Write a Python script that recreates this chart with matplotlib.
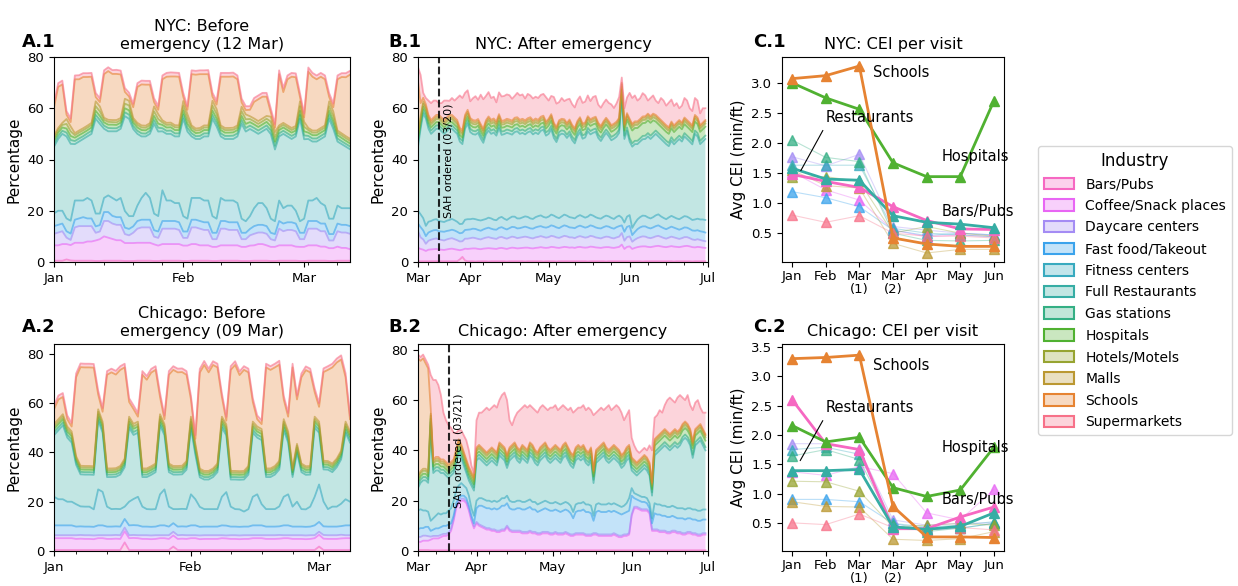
import numpy as np
import pandas as pd
import matplotlib
matplotlib.use('Agg')
import matplotlib.pyplot as plt
import matplotlib.dates as mdates
from matplotlib.patches import Patch
from matplotlib.colors import to_rgba
import seaborn as sns

industries = ['Bars/Pubs', 'Coffee/Snack places', 'Daycare centers', 'Fast food/Takeout',
              'Fitness centers', 'Full Restaurants', 'Gas stations', 'Hospitals',
              'Hotels/Motels', 'Malls', 'Schools', 'Supermarkets']
palette = sns.color_palette('husl', 12)[::-1]

# ---- A.1  NYC, daily share of visits (%), 1 Jan - 12 Mar ----
a1_bars = [0.5, 0.5, 0.5, 1.0, 0.6,
           0.5, 0.5, 0.5, 0.5, 0.5, 0.4, 0.4,
           0.5, 0.5, 0.5, 0.5, 0.5, 0.4, 0.4,
           0.4, 0.5, 0.5, 0.5, 0.5, 0.4, 0.4,
           0.5, 0.5, 0.5, 0.5, 0.5, 0.4, 0.4,
           0.5, 0.5, 0.5, 0.5, 0.5, 0.4, 0.4,
           0.5, 0.5, 0.5, 0.5, 0.5, 0.4, 0.4,
           0.4, 0.5, 0.5, 0.5, 0.5, 0.4, 0.4,
           0.5, 0.5, 0.5, 0.5, 0.5, 0.4, 0.4,
           0.5, 0.5, 0.5, 0.5, 0.5, 0.4, 0.4,
           0.5, 0.5, 0.5, 0.5]
a1_coffee = [6, 6, 6.5, 6, 6,
             7, 7, 7, 7.5, 7.5, 8, 8.5,
             9.5, 9, 8.5, 8, 8, 7, 7,
             7, 7, 7, 7, 7, 6.5, 6,
             6.5, 6.5, 6.5, 6.5, 6.5, 6, 6,
             6.5, 6.5, 6, 6, 6, 5.5, 5.5,
             6, 6, 6, 6, 6, 5.5, 5.5,
             6, 6, 6.5, 6.5, 6, 5.5, 5.5,
             6, 6, 6, 6, 5.5, 5.5, 5.5,
             6, 6, 6, 5.5, 5.5, 5, 5,
             5.5, 5, 5, 4.5]
a1_daycare = [4.5, 5, 5, 2.5, 2,
              6, 6.5, 6.5, 6, 6, 3, 3,
              6, 6.5, 6, 6, 6, 3.5, 3,
              4, 5.5, 6, 6, 6, 3, 3,
              6, 6, 6, 6, 5.5, 3, 3,
              6.5, 6.5, 6.5, 6, 6, 3, 3,
              6.5, 6.5, 6, 6, 6, 3, 3,
              4, 4.5, 4.5, 4.5, 4.5, 3, 2.5,
              6.5, 5.5, 6, 6, 6, 3, 3,
              6.5, 6.5, 6.5, 6, 6, 3, 3,
              6, 6, 6, 6]
a1_fastfood = [3, 3, 3, 2.5, 2.5,
               3, 3, 3.5, 3, 3, 2.5, 2.5,
               3.5, 3.5, 3, 3, 3, 2.5, 2.5,
               2.5, 3, 3, 3, 3, 2.5, 2.5,
               3, 3, 3, 3, 3, 2.5, 2.5,
               3, 3, 3, 3, 3, 2.5, 2.5,
               3, 3, 3, 3, 3, 2.5, 2.5,
               2.5, 3, 3, 3, 3, 2.5, 2.5,
               3, 3, 3, 3, 3, 2.5, 2.5,
               3, 3, 3, 3, 3, 2.5, 2.5,
               3, 3, 3, 3]
a1_fitness = [5, 5.5, 5, 5, 5,
              7.5, 7, 6.5, 8, 7, 5, 4.5,
              5.5, 6.5, 7, 6.5, 7.5, 6.5, 5,
              4, 6, 8.5, 10.5, 8.5, 6.5, 6,
              12, 8, 8, 7, 7.5, 6, 5,
              8.5, 8.5, 9, 8.5, 8.5, 6.5, 5.5,
              9, 8, 8.5, 8.5, 7.5, 5.5, 4.5,
              5, 7, 8.5, 8.5, 7, 5.5, 5,
              8, 6, 6.5, 6.5, 5, 4.5, 5.5,
              8, 8, 9, 8, 7, 6, 6,
              7, 6.5, 6.5, 7]
a1_fullrest = [26, 28, 30, 32, 30,
               22, 23, 24, 24, 26, 37, 35,
               27, 25, 26, 27, 27, 37, 38,
               34, 28, 24, 22, 25, 35, 33,
               23, 26, 26, 26, 26, 38, 34,
               24, 23, 23, 25, 25, 38, 36,
               24, 24, 24, 24, 26, 37, 35,
               34, 30, 27, 28, 31, 33, 28,
               25, 29, 27, 26, 29, 40, 31,
               24, 23, 22, 25, 27, 39, 35,
               25, 25, 24, 23]
a1_gas = [1.2, 1.2, 1.2, 1.5, 1.5,
          1.2, 1.2, 1.1, 1.2, 1.2, 1.5, 1.5,
          1.2, 1.3, 1.2, 1.2, 1.1, 1.5, 1.6,
          1.2, 1.2, 1.2, 1.1, 1.2, 1.5, 1.5,
          1.2, 1.2, 1.3, 1.2, 1.2, 1.6, 1.5,
          1.2, 1.1, 1.2, 1.2, 1.2, 1.5, 1.5,
          1.2, 1.2, 1.2, 1.3, 1.2, 1.5, 1.4,
          1.3, 1.3, 1.3, 1.3, 1.3, 1.5, 1.5,
          1.2, 1.2, 1.2, 1.2, 1.1, 1.5, 1.5,
          1.2, 1.2, 1.2, 1.2, 1.2, 1.5, 1.5,
          1.2, 1.1, 1.1, 1.1]
a1_hospitals = [1.3, 1.3, 1.3, 1.6, 1.6,
                1.3, 1.3, 1.3, 1.2, 1.3, 1.6, 1.6,
                1.3, 1.3, 1.4, 1.3, 1.3, 1.6, 1.7,
                1.3, 1.3, 1.3, 1.3, 1.2, 1.6, 1.6,
                1.3, 1.3, 1.3, 1.3, 1.3, 1.6, 1.6,
                1.3, 1.2, 1.3, 1.3, 1.3, 1.7, 1.6,
                1.3, 1.3, 1.3, 1.3, 1.3, 1.6, 1.6,
                1.4, 1.4, 1.4, 1.4, 1.4, 1.6, 1.6,
                1.3, 1.3, 1.3, 1.3, 1.2, 1.6, 1.6,
                1.3, 1.3, 1.3, 1.3, 1.3, 1.6, 1.6,
                1.3, 1.3, 1.2, 1.2]
a1_hotels = [1.0, 1.0, 1.0, 1.8, 1.8,
             1.0, 1.0, 1.0, 1.0, 1.0, 1.8, 1.8,
             1.0, 1.1, 1.0, 1.0, 1.0, 1.8, 1.9,
             1.0, 1.0, 1.0, 1.0, 1.0, 1.8, 1.8,
             1.0, 1.0, 1.0, 1.1, 1.0, 1.8, 1.8,
             1.0, 1.0, 1.0, 1.0, 1.0, 1.9, 1.8,
             1.0, 1.0, 1.0, 1.0, 1.0, 1.8, 1.8,
             1.2, 1.2, 1.2, 1.2, 1.2, 1.8, 1.8,
             1.0, 1.0, 1.0, 1.0, 1.0, 1.8, 1.8,
             1.0, 1.0, 1.0, 1.0, 1.0, 1.8, 1.8,
             1.0, 1.0, 1.0, 1.0]
a1_malls = [0.8, 0.8, 0.8, 1.9, 1.9,
            0.8, 0.8, 0.8, 0.8, 0.8, 1.9, 1.9,
            0.8, 0.8, 0.8, 0.9, 0.8, 1.9, 1.8,
            0.8, 0.8, 0.8, 0.8, 0.8, 1.9, 1.9,
            0.8, 0.8, 0.8, 0.8, 0.8, 1.9, 1.9,
            0.8, 0.8, 0.8, 0.8, 0.8, 1.9, 1.9,
            0.8, 0.8, 0.8, 0.8, 0.8, 1.8, 1.9,
            1.1, 1.1, 1.1, 1.1, 1.1, 1.9, 1.9,
            0.8, 0.8, 0.8, 0.8, 0.8, 1.9, 1.9,
            0.8, 0.8, 0.8, 0.8, 0.8, 1.9, 1.9,
            0.8, 0.8, 0.8, 0.8]
a1_schools = [11, 16, 15, 1.7, 1.7,
              21, 20, 20, 19, 18, 1.7, 1.7,
              17, 19, 18, 18, 17, 2.7, 1.7,
              4.2, 14, 16, 16, 15, 1.7, 1.7,
              16, 18, 18, 19, 19, 1.7, 1.7,
              20, 21, 21, 20, 20, 1.7, 1.7,
              19, 20, 20, 20, 18, 1.7, 1.7,
              2.5, 6.5, 8.5, 8.5, 7.5, 1.7, 1.7,
              20, 12, 18, 20, 19, 1.7, 1.7,
              22, 21, 20, 20, 18, 1.7, 1.7,
              20, 22, 23, 25]
a1_supermarkets = [1.5, 1.5, 1.5, 1.4, 1.5,
                   1.5, 1.6, 1.5, 1.5, 1.5, 1.6, 1.5,
                   1.5, 1.5, 1.5, 1.6, 1.5, 1.5, 1.5,
                   1.4, 1.5, 1.5, 1.5, 1.5, 1.5, 1.5,
                   1.5, 1.5, 1.6, 1.5, 1.5, 1.5, 1.4,
                   1.5, 1.5, 1.5, 1.5, 1.6, 1.5, 1.5,
                   1.5, 1.5, 1.5, 1.5, 1.5, 1.5, 1.5,
                   1.4, 1.5, 1.5, 1.5, 1.5, 1.5, 1.4,
                   1.5, 1.6, 1.5, 1.5, 1.5, 1.5, 1.5,
                   1.6, 1.5, 1.5, 1.5, 1.5, 1.5, 1.5,
                   1.5, 1.5, 1.6, 1.5]

# ---- A.2  Chicago, 1 Jan - 8 Mar ----
a2_bars = [0.4, 0.4, 0.4, 0.4, 0.4,
           0.4, 0.4, 0.4, 0.4, 0.4, 0.4, 0.4,
           0.4, 0.4, 0.4, 0.4, 3.5, 0.4, 0.4,
           0.4, 0.4, 0.4, 0.4, 0.4, 0.4, 0.4,
           0.4, 1.8, 0.4, 0.4, 0.4, 0.4, 0.4,
           0.4, 0.4, 0.4, 0.4, 0.4, 0.4, 0.4,
           0.4, 0.4, 0.4, 0.4, 0.4, 0.4, 0.4,
           0.4, 0.4, 0.4, 0.4, 0.4, 0.4, 0.4,
           0.4, 0.4, 0.4, 0.4, 0.4, 0.4, 1.8,
           0.4, 0.4, 0.4, 0.4, 0.4, 0.4, 0.4]
a2_coffee = [4.8, 4.8, 4.8, 4.8, 4.8,
             4.5, 4.6, 4.5, 4.5, 4.4, 4.8, 4.8,
             4.5, 4.5, 4.6, 4.5, 4.5, 4.8, 4.9,
             4.8, 4.5, 4.5, 4.4, 4.5, 4.8, 4.8,
             4.5, 4.5, 4.5, 4.6, 4.5, 4.8, 4.8,
             4.4, 4.5, 4.5, 4.5, 4.5, 4.8, 4.7,
             4.5, 4.5, 4.4, 4.5, 4.5, 4.8, 4.8,
             4.8, 4.5, 4.5, 4.5, 4.6, 4.8, 4.8,
             4.5, 4.5, 4.5, 4.4, 4.5, 4.8, 4.8,
             4.6, 4.5, 4.5, 4.5, 4.7, 4.8, 4.8]
a2_daycare = [1.2, 1.2, 1.2, 1.2, 1.2,
              1.5, 1.5, 1.5, 1.5, 1.5, 1.2, 1.2,
              1.5, 1.5, 1.5, 1.5, 1.5, 1.2, 1.2,
              1.2, 1.5, 1.5, 1.5, 1.5, 1.2, 1.2,
              1.5, 1.5, 1.5, 1.5, 1.5, 1.2, 1.2,
              1.5, 1.5, 1.5, 1.5, 1.5, 1.2, 1.2,
              1.5, 1.5, 1.5, 1.5, 1.5, 1.2, 1.2,
              1.2, 1.5, 1.5, 1.5, 1.5, 1.2, 1.2,
              1.5, 1.5, 1.5, 1.5, 1.5, 1.2, 1.2,
              1.5, 1.5, 1.5, 1.5, 1.5, 1.2, 1.2]
a2_fastfood = [4.0, 4.0, 4.0, 4.0, 4.0,
               3.5, 3.5, 3.5, 3.5, 3.5, 4.0, 4.0,
               3.5, 3.5, 3.5, 3.5, 3.5, 4.0, 4.0,
               4.0, 3.5, 3.5, 3.5, 3.5, 4.0, 4.0,
               3.5, 3.5, 3.5, 3.5, 3.5, 4.0, 4.0,
               3.5, 3.5, 3.5, 3.5, 3.5, 4.0, 4.0,
               3.5, 3.5, 3.5, 3.5, 3.5, 4.0, 4.0,
               4.0, 3.5, 3.5, 3.5, 3.5, 4.0, 4.0,
               3.5, 3.5, 3.5, 3.5, 3.5, 4.0, 4.0,
               3.5, 3.5, 3.5, 3.5, 3.5, 4.0, 4.0]
a2_fitness = [11.6, 10.6, 10.6, 9.6, 9.6,
              9.1, 8.1, 8.1, 8.1, 7.1, 14.6, 13.6,
              8.1, 7.1, 7.1, 7.1, 5.0, 9.6, 10.6,
              11.6, 8.1, 7.1, 7.1, 7.1, 12.6, 14.6,
              8.1, 5.7, 7.1, 7.1, 7.1, 12.6, 10.6,
              8.1, 7.1, 7.1, 7.1, 7.1, 11.6, 13.6,
              8.1, 7.1, 7.1, 6.1, 7.1, 11.6, 12.6,
              8.6, 7.1, 7.1, 7.1, 8.1, 11.6, 12.6,
              8.1, 10.1, 7.1, 7.1, 8.1, 11.6, 15.2,
              10.1, 7.1, 8.1, 8.1, 9.1, 10.6, 9.6]
a2_fullrest = [25, 28, 30, 26, 24,
               16, 13, 13, 13, 14, 28, 24,
               12, 13, 13, 14, 16, 30, 26,
               26, 12, 13, 14, 15, 28, 22,
               14, 14, 14, 14, 16, 27, 18,
               12, 12, 12, 13, 15, 28, 23,
               11, 12, 12, 13, 14, 26, 23,
               26, 13, 13, 14, 15, 27, 21,
               12, 20, 15, 14, 13, 28, 21,
               13, 16, 14, 16, 18, 27, 24]
a2_gas = [1.2, 1.2, 1.2, 1.2, 1.2,
          1.0, 1.0, 1.0, 1.0, 1.0, 1.2, 1.2,
          1.0, 1.0, 1.0, 1.0, 1.0, 1.2, 1.2,
          1.2, 1.0, 1.0, 1.0, 1.0, 1.2, 1.2,
          1.0, 1.0, 1.0, 1.0, 1.0, 1.2, 1.2,
          1.0, 1.0, 1.0, 1.0, 1.0, 1.2, 1.2,
          1.0, 1.0, 1.0, 1.0, 1.0, 1.2, 1.2,
          1.2, 1.0, 1.0, 1.0, 1.0, 1.2, 1.2,
          1.0, 1.0, 1.0, 1.0, 1.0, 1.2, 1.2,
          1.0, 1.0, 1.0, 1.0, 1.0, 1.2, 1.2]
a2_hospitals = [1.3, 1.3, 1.3, 1.3, 1.3,
                1.0, 1.0, 1.0, 1.0, 1.0, 1.3, 1.3,
                1.0, 1.0, 1.0, 1.0, 1.0, 1.3, 1.3,
                1.3, 1.0, 1.0, 1.0, 1.0, 1.3, 1.3,
                1.0, 1.0, 1.0, 1.0, 1.0, 1.3, 1.3,
                1.0, 1.0, 1.0, 1.0, 1.0, 1.3, 1.3,
                1.0, 1.0, 1.0, 1.0, 1.0, 1.3, 1.3,
                1.3, 1.0, 1.0, 1.0, 1.0, 1.3, 1.3,
                1.0, 1.0, 1.0, 1.0, 1.0, 1.3, 1.3,
                1.0, 1.0, 1.0, 1.0, 1.0, 1.3, 1.3]
a2_hotels = [1.0, 1.0, 1.0, 1.0, 1.0,
             0.8, 0.8, 0.8, 0.8, 0.8, 1.0, 1.0,
             0.8, 0.8, 0.8, 0.8, 0.8, 1.0, 1.0,
             1.0, 0.8, 0.8, 0.8, 0.8, 1.0, 1.0,
             0.8, 0.8, 0.8, 0.8, 0.8, 1.0, 1.0,
             0.8, 0.8, 0.8, 0.8, 0.8, 1.0, 1.0,
             0.8, 0.8, 0.8, 0.8, 0.8, 1.0, 1.0,
             1.0, 0.8, 0.8, 0.8, 0.8, 1.0, 1.0,
             0.8, 0.8, 0.8, 0.8, 0.8, 1.0, 1.0,
             0.8, 0.8, 0.8, 0.8, 0.8, 1.0, 1.0]
a2_malls = [1.0, 1.0, 1.0, 1.0, 1.0,
            0.7, 0.7, 0.7, 0.7, 0.7, 1.0, 1.0,
            0.7, 0.7, 0.7, 0.7, 0.7, 1.0, 1.0,
            1.0, 0.7, 0.7, 0.7, 0.7, 1.0, 1.0,
            0.7, 0.7, 0.7, 0.7, 0.7, 1.0, 1.0,
            0.7, 0.7, 0.7, 0.7, 0.7, 1.0, 1.0,
            0.7, 0.7, 0.7, 0.7, 0.7, 1.0, 1.0,
            1.0, 0.7, 0.7, 0.7, 0.7, 1.0, 1.0,
            0.7, 0.7, 0.7, 0.7, 0.7, 1.0, 1.0,
            0.7, 0.7, 0.7, 0.7, 0.7, 1.0, 1.0]
a2_schools = [6, 8, 7, 3, 2,
              32, 40, 40, 40, 40, 6, 4,
              38, 39, 38, 39, 37, 6, 6,
              2, 38, 36, 38, 38, 7, 2,
              36, 39, 38, 38, 35, 7, 2,
              39, 43, 40, 42, 39, 8, 1.5,
              41, 43, 39, 41, 38, 8, 3,
              2, 41, 40, 40, 39, 8, 6,
              41, 18, 35, 39, 38, 10, 6,
              36, 37, 39, 39, 37, 18, 5]
a2_supermarkets = [1.5, 1.6, 1.6, 1.5, 1.5,
                   1.5, 1.5, 1.5, 1.5, 1.5, 1.6, 1.5,
                   1.5, 1.5, 1.5, 1.5, 1.5, 1.5, 1.5,
                   1.5, 1.5, 1.5, 1.5, 1.5, 1.6, 1.5,
                   1.5, 1.5, 1.5, 1.5, 1.5, 1.5, 1.5,
                   1.5, 1.6, 1.5, 1.5, 1.5, 1.5, 1.5,
                   1.5, 1.5, 1.5, 1.5, 1.5, 1.5, 1.5,
                   1.5, 1.5, 1.5, 1.5, 1.6, 1.5, 1.5,
                   1.5, 1.5, 1.5, 1.5, 1.5, 1.5, 1.5,
                   1.5, 1.5, 1.5, 1.6, 1.7, 1.6, 1.5]

# ---- B.1  NYC, 12 Mar - 30 Jun ----
b1_bars = [0.3, 0.3, 0.3, 0.3, 0.3, 0.3, 0.3, 0.3, 0.3, 0.3,
           0.3, 0.3, 0.3, 0.3, 0.3, 0.3, 1.0, 2.0, 0.6, 0.3,
           0.3, 0.3, 0.2, 0.3, 0.3, 0.3, 0.3, 0.2, 0.3, 0.3,
           0.3, 0.3, 0.3, 0.3, 0.2, 0.3, 0.3, 0.3, 0.3, 0.3,
           0.3, 0.2, 0.3, 0.3, 0.3, 0.3, 0.3, 0.3, 0.2, 0.3,
           0.3, 0.3, 0.3, 0.2, 0.3, 0.3, 0.3, 0.3, 0.3, 0.3,
           0.3, 0.3, 0.3, 0.3, 0.3, 0.2, 0.3, 0.3, 0.3, 0.3,
           0.3, 0.3, 0.2, 0.3, 0.3, 0.3, 0.3, 0.3, 0.3, 0.3,
           0.3, 0.3, 0.3, 0.3, 0.3, 0.3, 0.2, 0.3, 0.3, 0.3,
           0.3, 0.3, 0.3, 0.3, 0.3, 0.3, 0.3, 0.3, 0.2, 0.3,
           0.3, 0.3, 0.3, 0.3, 0.3, 0.2, 0.3, 0.3, 0.3, 0.3, 0.3]
b1_coffee = [5.2, 4.8, 4.5, 4.0, 4.5, 4.6, 4.7, 4.8, 4.6, 4.5,
             4.4, 4.6, 4.8, 4.9, 4.7, 4.5, 3.6, 2.8, 4.6, 4.8,
             4.9, 5.0, 5.1, 4.8, 4.7, 4.9, 5.0, 5.2, 5.0, 4.9,
             4.8, 5.1, 5.2, 5.0, 4.9, 5.1, 5.3, 5.2, 5.0, 5.1,
             5.2, 5.4, 5.3, 5.1, 5.0, 5.2, 5.3, 5.5, 5.4, 5.2,
             5.3, 5.6, 5.5, 5.4, 5.2, 5.4, 5.6, 5.5, 5.3, 5.4,
             5.2, 5.5, 5.6, 5.4, 5.3, 5.5, 5.7, 5.6, 5.4, 5.3,
             5.2, 5.4, 5.6, 5.5, 5.3, 5.2, 5.4, 5.6, 6.5, 4.8,
             5.6, 5.8, 4.8, 5.2, 5.5, 5.7, 5.9, 5.8, 5.6, 5.5,
             5.7, 5.9, 6.0, 5.8, 5.6, 5.5, 5.7, 5.9, 5.8, 5.6,
             5.5, 5.7, 5.9, 6.0, 5.8, 5.6, 5.4, 5.6, 5.5, 5.3, 5.2]
b1_daycare = [6.5, 4.5, 4.0, 2.8, 3.5, 3.8, 4.0, 4.1, 3.9, 3.8,
              3.7, 3.9, 4.0, 4.1, 3.9, 3.7, 3.4, 3.3, 3.9, 4.0,
              4.1, 4.2, 4.0, 3.9, 3.8, 4.0, 4.2, 4.3, 4.1, 4.0,
              3.9, 4.2, 4.3, 4.1, 4.0, 4.1, 4.3, 4.2, 4.0, 4.1,
              4.2, 4.3, 4.1, 4.0, 3.9, 4.1, 4.2, 4.3, 4.2, 4.0,
              4.1, 4.3, 4.2, 4.0, 3.9, 4.1, 4.3, 4.2, 4.0, 3.9,
              3.8, 4.0, 4.2, 4.1, 3.9, 4.0, 4.2, 4.1, 3.9, 3.8,
              3.7, 3.9, 4.1, 4.0, 3.8, 3.7, 3.9, 4.0, 4.5, 3.2,
              3.8, 3.9, 2.8, 3.2, 3.5, 3.7, 3.9, 3.8, 3.6, 3.5,
              3.6, 3.8, 3.9, 3.7, 3.5, 3.3, 3.5, 3.7, 3.6, 3.4,
              3.2, 3.3, 3.5, 3.4, 3.2, 3.0, 2.9, 3.0, 2.8, 2.7, 2.6]
b1_fastfood = [3.0, 4.0, 3.5, 3.0, 3.2, 3.3, 3.4, 3.3, 3.2, 3.3,
               3.4, 3.3, 3.2, 3.3, 3.4, 3.3, 3.2, 3.3, 3.4, 3.5,
               3.4, 3.5, 3.6, 3.5, 3.4, 3.5, 3.6, 3.7, 3.6, 3.5,
               3.6, 3.7, 3.8, 3.7, 3.6, 3.7, 3.8, 3.9, 3.8, 3.7,
               3.8, 3.9, 3.8, 3.7, 3.8, 3.9, 4.0, 3.9, 3.8, 3.9,
               4.0, 4.1, 4.0, 3.9, 3.8, 4.0, 4.1, 4.0, 3.9, 3.8,
               3.9, 4.0, 4.1, 4.0, 3.9, 4.0, 4.1, 4.0, 3.9, 3.8,
               3.9, 4.0, 4.1, 4.0, 3.9, 3.8, 4.0, 4.1, 3.0, 3.5,
               4.0, 4.1, 2.6, 3.0, 3.5, 3.8, 3.9, 4.0, 3.9, 3.8,
               3.9, 4.0, 4.1, 3.9, 3.8, 3.7, 3.8, 3.9, 3.8, 3.7,
               3.6, 3.7, 3.8, 3.7, 3.6, 3.5, 3.6, 3.5, 3.4, 3.5, 3.4]
b1_fitness = [5.0, 5.0, 4.8, 4.0, 4.2, 4.0, 4.1, 4.2, 4.0, 3.9,
              3.8, 4.0, 4.1, 4.2, 4.0, 3.9, 3.6, 3.5, 4.0, 4.1,
              4.0, 3.9, 3.8, 3.9, 4.0, 3.8, 3.7, 3.9, 4.0, 3.8,
              3.7, 3.9, 4.0, 3.8, 3.7, 3.9, 4.0, 4.1, 3.9, 3.8,
              3.9, 4.0, 4.1, 3.9, 3.8, 4.0, 4.1, 4.2, 4.0, 3.9,
              4.0, 4.2, 4.1, 4.0, 3.9, 4.0, 4.2, 4.1, 4.0, 3.9,
              3.8, 4.0, 4.1, 4.0, 3.9, 4.0, 4.2, 4.1, 4.0, 3.9,
              3.8, 4.0, 4.1, 4.0, 3.9, 3.8, 4.0, 4.1, 3.0, 3.6,
              4.0, 4.2, 2.8, 3.4, 3.8, 4.0, 4.2, 4.1, 4.0, 3.9,
              4.0, 4.2, 4.3, 4.1, 4.0, 3.9, 4.1, 4.2, 4.1, 4.0,
              4.1, 4.3, 4.4, 4.3, 4.2, 4.1, 4.4, 4.5, 4.6, 4.8, 4.9]
b1_fullrest = [25, 33.4, 40.9, 41.9, 36.3, 34, 34.5, 35.3, 36, 35.2,
               34.4, 34.9, 35.6, 35.2, 34.7, 34.3, 32.2, 31.1, 35.5, 37.3,
               34, 33, 33, 34, 32, 30, 33, 34, 33, 34,
               33, 35, 32, 33, 34, 33, 32, 33, 34, 33,
               33, 32, 33, 34, 33, 33, 32, 33, 34, 32,
               32.3, 33.3, 30.3, 29.3, 32.3, 32.3, 31.3, 30.3, 32.3, 30.3,
               29.3, 31.3, 32.3, 30.3, 31.3, 33.3, 31.3, 32.3, 33.3, 31.3,
               30.3, 31.3, 32.3, 31.3, 30.3, 31.3, 31.3, 32.3, 46.7, 32.6,
               33.5, 28.7, 31.7, 30.9, 29.4, 29.5, 29.8, 30, 31.6, 31,
               31.5, 31.8, 30.4, 30.2, 29.8, 29.3, 27.8, 29.3, 28.4, 30,
               31.3, 29.7, 31.1, 30.3, 29.9, 29.5, 33.4, 32.1, 29.4, 30.4, 31.6]
b1_gas = [1.5, 1.3, 1.3, 1.3, 1.3, 1.3, 1.3, 1.3, 1.3, 1.3,
          1.3, 1.3, 1.2, 1.3, 1.3, 1.3, 1.3, 1.3, 1.3, 1.3,
          1.3, 1.3, 1.3, 1.3, 1.4, 1.3, 1.3, 1.3, 1.3, 1.3,
          1.3, 1.3, 1.3, 1.2, 1.3, 1.3, 1.3, 1.3, 1.3, 1.3,
          1.3, 1.3, 1.3, 1.3, 1.3, 1.3, 1.4, 1.3, 1.3, 1.3,
          1.3, 1.3, 1.3, 1.3, 1.3, 1.3, 1.3, 1.3, 1.2, 1.3,
          1.3, 1.3, 1.3, 1.3, 1.3, 1.3, 1.3, 1.3, 1.3, 1.3,
          1.3, 1.4, 1.3, 1.3, 1.3, 1.3, 1.3, 1.3, 1.3, 1.3,
          1.3, 1.3, 1.3, 1.3, 1.3, 1.2, 1.3, 1.3, 1.3, 1.3,
          1.3, 1.3, 1.3, 1.3, 1.3, 1.3, 1.3, 1.4, 1.3, 1.3,
          1.3, 1.3, 1.3, 1.3, 1.3, 1.3, 1.3, 1.3, 1.3, 1.3, 1.3]
b1_hospitals = [1.3, 1.3, 1.3, 1.3, 1.3, 1.3, 1.3, 1.3, 1.3, 1.3,
                1.3, 1.3, 1.3, 1.3, 1.3, 1.3, 1.3, 1.3, 1.3, 1.3,
                1.5, 1.5, 1.5, 1.5, 1.5, 1.5, 1.5, 1.5, 1.5, 1.5,
                1.5, 1.5, 1.5, 1.5, 1.5, 1.5, 1.5, 1.5, 1.5, 1.5,
                1.5, 1.5, 1.5, 1.5, 1.5, 1.5, 1.5, 1.5, 1.5, 1.5,
                2.0, 2.0, 2.0, 2.0, 2.0, 2.0, 2.0, 2.0, 2.0, 2.0,
                2.0, 2.0, 2.0, 2.0, 2.0, 2.0, 2.0, 2.0, 2.0, 2.0,
                2.0, 2.0, 2.0, 2.0, 2.0, 2.0, 2.0, 2.0, 2.0, 2.0,
                3.0, 5.0, 5.0, 5.0, 5.0, 5.0, 5.0, 5.0, 5.0, 5.0,
                5.0, 3.5, 3.5, 3.5, 3.5, 3.5, 3.5, 3.5, 3.5, 3.5,
                3.5, 3.5, 3.5, 3.5, 3.5, 3.5, 3.5, 3.5, 3.5, 3.5, 3.5]
b1_hotels = [1.2, 1.2, 1.2, 1.2, 1.2, 1.2, 1.2, 1.2, 1.2, 1.2,
             1.2, 1.2, 1.2, 1.2, 1.2, 1.2, 1.2, 1.2, 1.2, 1.2,
             1.2, 1.2, 1.2, 1.1, 1.2, 1.2, 1.2, 1.2, 1.2, 1.2,
             1.2, 1.2, 1.2, 1.2, 1.2, 1.2, 1.2, 1.3, 1.2, 1.2,
             1.2, 1.2, 1.2, 1.2, 1.2, 1.2, 1.2, 1.2, 1.2, 1.2,
             1.2, 1.2, 1.2, 1.2, 1.2, 1.1, 1.2, 1.2, 1.2, 1.2,
             1.2, 1.2, 1.2, 1.2, 1.2, 1.2, 1.2, 1.2, 1.2, 1.2,
             1.2, 1.2, 1.2, 1.2, 1.2, 1.2, 1.2, 1.2, 1.2, 1.2,
             1.2, 1.2, 1.2, 1.2, 1.2, 1.2, 1.2, 1.2, 1.2, 1.2,
             1.2, 1.2, 1.2, 1.2, 1.2, 1.2, 1.2, 1.2, 1.2, 1.2,
             1.2, 1.2, 1.2, 1.2, 1.2, 1.2, 1.2, 1.2, 1.2, 1.2, 1.2]
b1_malls = [1.5, 1.2, 0.8, 0.8, 0.8, 0.8, 0.8, 0.8, 0.8, 0.8,
            0.8, 0.8, 0.8, 0.8, 0.8, 0.8, 0.8, 0.8, 0.8, 0.8,
            0.8, 0.8, 0.8, 0.8, 0.8, 0.8, 0.8, 0.8, 0.8, 0.8,
            0.8, 0.8, 0.8, 0.8, 0.8, 0.8, 0.8, 0.8, 0.8, 0.8,
            0.8, 0.8, 0.8, 0.8, 0.8, 0.8, 0.8, 0.8, 0.8, 0.8,
            0.8, 0.8, 0.8, 0.8, 0.8, 0.8, 0.8, 0.8, 0.8, 0.8,
            0.8, 0.8, 0.8, 0.8, 0.8, 0.8, 0.8, 0.8, 0.8, 0.8,
            0.8, 0.8, 0.8, 0.8, 0.8, 0.8, 0.8, 0.8, 0.8, 0.8,
            0.8, 0.8, 0.8, 0.8, 0.8, 0.8, 0.8, 0.8, 0.8, 0.8,
            0.8, 0.8, 0.8, 0.8, 0.8, 0.8, 0.8, 0.8, 0.8, 0.8,
            0.8, 0.8, 0.8, 0.8, 0.8, 0.8, 0.8, 0.8, 0.8, 0.8, 0.8]
b1_schools = [20, 5, 1.5, 1.0, 0.8, 0.8, 0.8, 0.8, 0.8, 0.8,
              0.8, 0.8, 0.8, 0.8, 0.8, 0.8, 0.8, 0.8, 0.8, 0.8,
              0.7, 0.7, 0.7, 0.7, 0.7, 0.7, 0.7, 0.7, 0.7, 0.7,
              0.7, 0.7, 0.7, 0.7, 0.7, 0.7, 0.7, 0.7, 0.7, 0.7,
              0.7, 0.7, 0.7, 0.7, 0.7, 0.7, 0.7, 0.7, 0.7, 0.7,
              0.6, 0.6, 0.6, 0.6, 0.6, 0.6, 0.6, 0.6, 0.6, 0.6,
              0.6, 0.6, 0.6, 0.6, 0.6, 0.6, 0.6, 0.6, 0.6, 0.6,
              0.6, 0.6, 0.6, 0.6, 0.6, 0.6, 0.6, 0.6, 0.6, 0.6,
              0.6, 0.6, 0.6, 0.6, 0.6, 0.6, 0.6, 0.6, 0.6, 0.6,
              0.6, 0.6, 0.6, 0.6, 0.6, 0.6, 0.6, 0.6, 0.6, 0.6,
              0.6, 0.6, 0.6, 0.6, 0.6, 0.6, 0.6, 0.6, 0.6, 0.6, 0.6]
b1_supermarkets = [5.5, 11, 1.9, 2.4, 5.6, 6.6, 6.6, 5.6, 4.6, 5.6,
                   7.6, 6.6, 5.6, 6.6, 6.6, 8.6, 12.6, 12.6, 8.6, 7.6,
                   6.5, 8.5, 9.5, 7.5, 11.5, 11.5, 9.5, 9.5, 8.5, 8.5,
                   7.5, 8.5, 9.5, 9.5, 9.5, 9.5, 8.5, 8.5, 9.5, 9.5,
                   9.5, 8.5, 9.5, 8.5, 8.5, 8.5, 8.5, 8.5, 8.5, 9.5,
                   7.1, 7.1, 10.1, 9.1, 7.1, 8.1, 7.1, 9.1, 8.1, 8.1,
                   8.1, 8.1, 8.1, 8.1, 8.1, 8.1, 7.1, 8.1, 8.1, 7.1,
                   7.1, 7.1, 7.1, 7.1, 8.1, 6.1, 7.1, 8.1, 2.1, 6.1,
                   6.1, 10.1, 10.1, 10.1, 8.1, 8.1, 9.1, 8.1, 5.1, 7.1,
                   7.1, 5.6, 5.6, 8.6, 8.6, 7.6, 9.6, 8.6, 7.6, 7.6,
                   4.6, 6.6, 7.6, 7.6, 5.6, 5.6, 6.6, 6.6, 4.6, 5.6, 4.6]

# ---- B.2  Chicago, 9 Mar - 30 Jun (rows: Mar / Apr / May / Jun) ----
b2_bars = [0.4, 0.4, 0.4, 0.4, 0.4, 0.3, 0.3, 0.3, 0.3, 0.3, 0.3, 0.3, 0.3, 0.3, 0.3, 0.3, 0.3, 0.3, 0.3, 0.3, 0.3, 0.3, 0.3,
           0.3, 0.3, 0.3, 0.3, 0.3, 0.3, 0.3, 0.3, 0.3, 0.3, 0.3, 0.3, 0.3, 0.3, 0.3, 0.3, 0.3, 0.3, 0.3, 0.3, 0.3, 0.3, 0.3, 0.3, 0.3, 0.3, 0.3, 0.3, 0.3, 0.3,
           0.3, 0.3, 0.3, 0.3, 0.3, 0.3, 0.3, 0.3, 0.3, 0.3, 0.3, 0.3, 0.3, 0.3, 0.3, 0.3, 0.3, 0.3, 0.3, 0.3, 0.3, 0.3, 0.3, 0.3, 0.3, 0.3, 0.3, 0.3, 0.3, 0.3, 0.3,
           0.3, 0.3, 0.3, 0.3, 0.3, 0.3, 0.3, 0.3, 0.3, 0.3, 0.3, 0.3, 0.3, 0.3, 0.3, 0.3, 0.3, 0.3, 0.3, 0.3, 0.3, 0.3, 0.3, 0.3, 0.3, 0.3, 0.3, 0.3, 0.3, 0.3]
b2_coffee = [3.2, 3.2, 3.7, 3.7, 3.7, 4.2, 4.7, 4.7, 4.7, 5.2, 5.7, 5.7, 6.2, 7.7, 11.7, 16.7, 18.7, 19.7, 19.7, 18.7, 15.7, 11.7, 8.7,
             10.7, 9.7, 9.2, 8.7, 8.2, 8.2, 7.7, 7.7, 7.2, 7.2, 7.7, 7.7, 9.2, 7.7, 7.2, 7.2, 7.2, 7.2, 6.7, 6.7, 6.7, 7.2, 6.7, 6.7, 6.2, 6.2, 6.7, 6.7, 6.7, 6.2,
             6.2, 6.7, 6.2, 6.2, 6.2, 6.7, 6.2, 5.7, 5.7, 6.2, 6.2, 6.2, 6.2, 5.7, 5.7, 5.7, 6.2, 6.2, 5.7, 5.7, 5.7, 5.7, 5.7, 5.7, 6.2, 5.7, 5.2, 5.2, 5.7, 5.7, 6.2,
             13.7, 16.7, 16.7, 16.2, 15.7, 15.7, 15.7, 14.7, 7.7, 7.7, 7.7, 7.2, 7.2, 7.2, 6.7, 6.7, 7.2, 7.2, 6.7, 6.7, 6.2, 6.2, 6.7, 6.7, 6.2, 6.2, 5.7, 5.7, 6.2, 6.2]
b2_daycare = [2.0, 2.0, 2.0, 2.0, 1.8, 1.2, 1.0, 1.0, 1.0, 0.9, 0.8, 0.8, 0.8, 0.8, 0.8, 0.8, 0.8, 0.8, 0.8, 0.8, 0.8, 0.8, 0.8,
              0.6, 0.6, 0.6, 0.6, 0.6, 0.6, 0.6, 0.6, 0.6, 0.6, 0.6, 0.6, 0.6, 0.6, 0.6, 0.6, 0.6, 0.6, 0.6, 0.6, 0.6, 0.6, 0.6, 0.6, 0.6, 0.6, 0.6, 0.6, 0.6, 0.6,
              0.6, 0.6, 0.6, 0.6, 0.6, 0.6, 0.6, 0.6, 0.6, 0.6, 0.6, 0.6, 0.6, 0.6, 0.6, 0.6, 0.6, 0.6, 0.6, 0.6, 0.6, 0.6, 0.6, 0.6, 0.6, 0.6, 0.6, 0.6, 0.6, 0.6, 0.6,
              0.6, 0.6, 0.6, 0.6, 0.6, 0.6, 0.6, 0.6, 0.6, 0.6, 0.6, 0.6, 0.6, 0.6, 0.6, 0.6, 0.6, 0.6, 0.6, 0.6, 0.6, 0.6, 0.6, 0.6, 0.6, 0.6, 0.6, 0.6, 0.6, 0.6]
b2_fastfood = [3.0, 3.5, 3.0, 3.5, 3.7, 2.3, 2.5, 3.0, 3.0, 3.1, 3.2, 3.2, 3.2, 2.2, 1.2, 1.2, 1.2, 1.2, 1.2, 1.2, 1.2, 1.2, 1.2,
               5.4, 7.4, 7.9, 7.9, 7.9, 7.9, 7.9, 8.4, 8.4, 8.9, 9.4, 9.4, 8.9, 8.4, 8.4, 8.4, 8.9, 8.9, 8.9, 8.9, 9.4, 9.4, 8.9, 8.9, 8.4, 8.9, 8.9, 9.4, 8.9, 8.9,
               8.9, 8.9, 8.9, 8.4, 8.9, 8.9, 8.9, 8.4, 6.4, 8.4, 8.9, 8.9, 9.4, 8.9, 8.9, 8.4, 4.9, 8.4, 9.4, 8.9, 8.9, 8.9, 9.4, 8.9, 8.9, 8.9, 8.9, 8.4, 8.4, 8.9, 8.9,
               7.4, 3.4, 2.9, 2.9, 2.9, 2.9, 2.4, 1.4, 2.4, 6.4, 5.9, 6.4, 5.9, 5.9, 5.9, 5.9, 5.9, 5.4, 5.4, 5.4, 5.9, 5.4, 5.4, 5.4, 5.4, 5.4, 5.4, 5.4, 5.4, 5.4]
b2_fitness = [7.5, 7.5, 7.0, 6.5, 6.0, 4.0, 4.5, 5.0, 6.0, 5.0, 5.0, 5.0, 5.5, 6.0, 6.0, 5.0, 5.0, 5.0, 4.0, 4.0, 4.0, 3.0, 3.0,
              3.0, 3.0, 3.0, 3.0, 3.0, 3.0, 3.0, 3.0, 3.0, 3.0, 3.0, 3.0, 3.0, 3.0, 3.0, 3.0, 3.0, 3.0, 3.0, 3.0, 3.0, 3.0, 3.0, 3.0, 3.0, 3.0, 3.0, 3.0, 3.0, 3.0,
              3.0, 3.0, 3.0, 3.0, 3.0, 3.0, 3.0, 3.0, 2.5, 3.0, 3.0, 3.0, 3.0, 3.0, 3.0, 3.0, 2.0, 3.0, 3.0, 3.0, 3.0, 3.0, 3.0, 3.0, 3.0, 3.0, 3.0, 3.0, 3.0, 3.5, 5.0,
              3.0, 2.0, 2.0, 2.0, 2.0, 2.0, 2.0, 2.0, 2.0, 4.0, 4.0, 4.0, 4.0, 4.0, 4.0, 4.0, 4.0, 4.0, 4.0, 4.0, 4.0, 4.0, 4.0, 4.0, 4.0, 4.0, 4.0, 4.0, 4.0, 4.0]
b2_fullrest = [9, 10.5, 12, 12, 11.5, 38, 18, 18, 17, 16.5, 16, 15, 13, 13, 11, 11, 13, 10, 8, 6, 6, 9, 10,
               16, 16, 15, 14.5, 14, 15, 16.5, 15, 14.5, 18, 16, 15, 11, 16, 17.5, 18.5, 16, 15, 17.5, 16.5, 15, 17.5, 17.5, 15.5, 15.5, 17, 17.5, 18, 16.5, 16,
               17, 17.5, 17, 16.5, 18, 18.5, 17, 16, 17.5, 17.5, 18, 17, 17.5, 16.5, 15.5, 18, 13, 16.5, 17, 18.5, 19.5, 17.5, 16, 17.5, 18, 17.5, 17, 15.5, 16, 17, 16,
               7, 8, 7.5, 9, 10.5, 11.5, 11, 11, 9, 19, 20.5, 21.5, 23, 24, 23.5, 22.5, 23, 24.5, 24, 25, 27, 28.5, 27, 25, 20.5, 25.5, 27, 28, 25.5, 23.5]
b2_gas = [1.3, 1.3, 1.3, 1.3, 1.3, 1.3, 1.3, 1.3, 1.3, 1.3, 1.3, 1.3, 1.3, 1.3, 1.3, 1.3, 1.3, 1.3, 1.3, 1.3, 1.3, 1.3, 1.3,
          1.3, 1.3, 1.3, 1.3, 1.3, 1.3, 1.3, 1.3, 1.3, 1.3, 1.3, 1.3, 1.3, 1.3, 1.3, 1.3, 1.3, 1.3, 1.3, 1.3, 1.3, 1.3, 1.3, 1.3, 1.3, 1.3, 1.3, 1.3, 1.3, 1.3,
          1.3, 1.3, 1.3, 1.3, 1.3, 1.3, 1.3, 1.3, 1.3, 1.3, 1.3, 1.3, 1.3, 1.3, 1.3, 1.3, 1.3, 1.3, 1.3, 1.3, 1.3, 1.3, 1.3, 1.3, 1.3, 1.3, 1.3, 1.3, 1.3, 1.3, 1.3,
          1.3, 1.3, 1.3, 1.3, 1.3, 1.3, 1.3, 1.3, 1.3, 1.3, 1.3, 1.3, 1.3, 1.3, 1.3, 1.3, 1.3, 1.3, 1.3, 1.3, 1.3, 1.3, 1.3, 1.3, 1.3, 1.3, 1.3, 1.3, 1.3, 1.3]
b2_hospitals = [1.3, 1.3, 1.3, 1.3, 1.3, 1.3, 1.3, 1.3, 1.3, 1.3, 1.3, 1.3, 1.3, 1.3, 1.3, 1.3, 1.3, 1.3, 1.3, 1.3, 1.3, 1.3, 1.3,
                1.3, 1.3, 1.3, 1.3, 1.3, 1.3, 1.3, 1.3, 1.3, 1.3, 1.3, 1.3, 1.3, 1.3, 1.3, 1.3, 1.3, 1.3, 1.3, 1.3, 1.3, 1.3, 1.3, 1.3, 1.3, 1.3, 1.3, 1.3, 1.3, 1.3,
                1.3, 1.3, 1.3, 1.3, 1.3, 1.3, 1.3, 1.3, 1.3, 1.3, 1.3, 1.3, 1.3, 1.3, 1.3, 1.3, 1.3, 1.3, 1.3, 1.3, 1.3, 1.3, 1.3, 1.3, 1.3, 1.3, 1.3, 1.3, 1.3, 1.3, 1.3,
                1.3, 1.3, 1.3, 1.3, 1.3, 1.3, 1.3, 1.3, 1.3, 2.6, 2.6, 2.6, 2.6, 2.6, 2.6, 2.6, 2.6, 2.6, 2.6, 2.6, 2.6, 2.6, 2.6, 2.6, 2.6, 2.6, 2.6, 2.6, 2.6, 2.6]
b2_hotels = [1.2, 1.2, 1.2, 1.2, 1.2, 1.2, 1.2, 1.2, 1.2, 1.2, 1.2, 1.2, 1.2, 1.2, 1.2, 1.2, 1.2, 1.2, 1.2, 1.2, 1.2, 1.2, 1.2,
             1.2, 1.2, 1.2, 1.2, 1.2, 1.2, 1.2, 1.2, 1.2, 1.2, 1.2, 1.2, 1.2, 1.2, 1.2, 1.2, 1.2, 1.2, 1.2, 1.2, 1.2, 1.2, 1.2, 1.2, 1.2, 1.2, 1.2, 1.2, 1.2, 1.2,
             1.2, 1.2, 1.2, 1.2, 1.2, 1.2, 1.2, 1.2, 1.2, 1.2, 1.2, 1.2, 1.2, 1.2, 1.2, 1.2, 1.2, 1.2, 1.2, 1.2, 1.2, 1.2, 1.2, 1.2, 1.2, 1.2, 1.2, 1.2, 1.2, 1.2, 1.2,
             1.2, 1.2, 1.2, 1.2, 1.2, 1.2, 1.2, 1.2, 1.2, 1.2, 1.2, 1.2, 1.2, 1.2, 1.2, 1.2, 1.2, 1.2, 1.2, 1.2, 1.2, 1.2, 1.2, 1.2, 1.2, 1.2, 1.2, 1.2, 1.2, 1.2]
b2_malls = [0.8, 0.8, 0.8, 0.8, 0.8, 0.8, 0.8, 0.8, 0.8, 0.8, 0.8, 0.8, 0.8, 0.8, 0.8, 0.8, 0.8, 0.8, 0.8, 0.8, 0.8, 0.8, 0.8,
            0.8, 0.8, 0.8, 0.8, 0.8, 0.8, 0.8, 0.8, 0.8, 0.8, 0.8, 0.8, 0.8, 0.8, 0.8, 0.8, 0.8, 0.8, 0.8, 0.8, 0.8, 0.8, 0.8, 0.8, 0.8, 0.8, 0.8, 0.8, 0.8, 0.8,
            0.8, 0.8, 0.8, 0.8, 0.8, 0.8, 0.8, 0.8, 0.8, 0.8, 0.8, 0.8, 0.8, 0.8, 0.8, 0.8, 0.8, 0.8, 0.8, 0.8, 0.8, 0.8, 0.8, 0.8, 0.8, 0.8, 0.8, 0.8, 0.8, 0.8, 0.8,
            0.8, 0.8, 0.8, 0.8, 0.8, 0.8, 0.8, 0.8, 0.8, 0.8, 0.8, 0.8, 0.8, 0.8, 0.8, 0.8, 0.8, 0.8, 0.8, 0.8, 0.8, 0.8, 0.8, 0.8, 0.8, 0.8, 0.8, 0.8, 0.8, 0.8]
b2_schools = [46.9, 43.9, 43.9, 41.9, 40.9, 2.0, 0.8, 0.8, 0.8, 0.8, 0.8, 0.8, 0.8, 0.8, 0.8, 0.8, 0.8, 0.8, 0.8, 0.8, 0.8, 0.8, 0.8,
              0.6, 0.6, 0.6, 0.6, 0.6, 0.6, 0.6, 0.6, 0.6, 0.6, 0.6, 0.6, 0.6, 0.6, 0.6, 0.6, 0.6, 0.6, 0.6, 0.6, 0.6, 0.6, 0.6, 0.6, 0.6, 0.6, 0.6, 0.6, 0.6, 0.6,
              0.6, 0.6, 0.6, 0.6, 0.6, 0.6, 0.6, 0.6, 0.6, 0.6, 0.6, 0.6, 0.6, 0.6, 0.6, 0.6, 0.6, 0.6, 0.6, 0.6, 0.6, 0.6, 0.6, 0.6, 0.6, 0.6, 0.6, 0.6, 0.6, 0.6, 0.6,
              0.6, 0.6, 0.6, 0.6, 0.6, 0.6, 0.6, 0.6, 0.6, 0.6, 0.6, 0.6, 0.6, 0.6, 0.6, 0.6, 0.6, 0.6, 0.6, 0.6, 0.6, 0.6, 0.6, 0.6, 0.6, 0.6, 0.6, 0.6, 0.6, 0.6]
b2_supermarkets = [1.5, 1.5, 1.5, 1.5, 1.5, 13.4, 31.6, 30.6, 28.6, 25.6, 18.6, 16.6, 15.6, 13.6, 10.6, 6.6, 3.6, 5.6, 6.6, 7.6, 6.6, 2.6, 1.6,
                   10.8, 12.8, 13.8, 15.8, 17.8, 15.8, 15.8, 17.8, 17.8, 16.8, 19.8, 21.8, 21.8, 10.8, 7.8, 9.8, 13.8, 15.8, 14.8, 16.8, 16.8, 14.8, 14.8, 15.8, 15.8, 15.8, 15.8, 13.8, 14.8, 16.8,
                   15.8, 15.8, 14.8, 16.8, 15.8, 13.8, 14.8, 17.8, 16.8, 14.8, 14.8, 15.8, 15.8, 15.8, 17.8, 14.8, 21.8, 14.8, 14.8, 14.8, 12.8, 15.8, 17.8, 14.8, 14.8, 16.8, 16.8, 16.8, 12.8, 12.8, 13.8,
                   7.8, 5.8, 4.8, 2.8, 2.8, 2.8, 2.8, 6.8, 12.8, 8.5, 8.5, 9.5, 7.5, 9.5, 12.5, 14.5, 12.5, 10.5, 13.5, 13.5, 10.5, 8.5, 11.5, 9.5, 12.5, 10.5, 10.5, 6.5, 6.5, 8.5]

# ---- C  average CEI per visit ----
periods = ['Jan', 'Feb', 'Mar\n(1)', 'Mar\n(2)', 'Apr', 'May', 'Jun']
c1_cei = [
    [1.48, 1.36, 1.26, 0.94, 0.71, 0.57, 0.56],
    [1.52, 1.22, 1.05, 0.55, 0.44, 0.47, 0.44],
    [1.77, 1.62, 1.81, 0.61, 0.55, 0.50, 0.47],
    [1.19, 1.09, 0.94, 0.55, 0.46, 0.50, 0.47],
    [1.63, 1.63, 1.63, 0.58, 0.50, 0.47, 0.44],
    [1.58, 1.40, 1.38, 0.79, 0.68, 0.65, 0.59],
    [2.05, 1.76, 1.69, 0.50, 0.38, 0.37, 0.38],
    [3.00, 2.75, 2.56, 1.67, 1.44, 1.44, 2.70],
    [1.44, 1.44, 1.36, 0.50, 0.61, 0.50, 0.45],
    [1.55, 1.29, 1.25, 0.33, 0.17, 0.23, 0.23],
    [3.07, 3.12, 3.28, 0.42, 0.32, 0.28, 0.28],
    [0.80, 0.68, 0.79, 0.50, 0.45, 0.45, 0.42]]
c2_cei = [
    [2.60, 1.85, 1.75, 0.40, 0.40, 0.60, 0.77],
    [1.37, 1.31, 1.46, 1.34, 0.67, 0.55, 1.07],
    [1.85, 1.85, 1.76, 0.55, 0.46, 0.49, 0.50],
    [0.90, 0.90, 0.86, 0.49, 0.38, 0.41, 0.49],
    [1.75, 1.79, 1.67, 0.49, 0.43, 0.46, 0.52],
    [1.39, 1.39, 1.41, 0.43, 0.39, 0.44, 0.67],
    [1.64, 1.75, 1.58, 0.46, 0.35, 0.41, 0.49],
    [2.16, 1.88, 1.96, 1.10, 0.95, 1.06, 1.79],
    [1.21, 1.20, 1.04, 0.43, 0.46, 0.49, 0.46],
    [0.86, 0.78, 0.77, 0.22, 0.20, 0.23, 0.35],
    [3.30, 3.32, 3.36, 0.78, 0.26, 0.26, 0.25],
    [0.50, 0.47, 0.65, 0.42, 0.38, 0.42, 0.38]]
highlight = ['Bars/Pubs', 'Full Restaurants', 'Hospitals', 'Schools']

plt.rcParams['xtick.labelsize'] = 9.5
plt.rcParams['ytick.labelsize'] = 9.5

W, H = 1238, 586
fig = plt.figure(figsize=(W / 100, H / 100), dpi=100)


def box(l, r, t, b):
    return fig.add_axes([l / W, 1 - b / H, (r - l) / W, (b - t) / H])


def stacked(ax, start, layers):
    n = min(len(s) for s in layers)
    dates = pd.date_range(start, periods=n)
    vals = np.array([s[:n] for s in layers], dtype=float)
    ax.stackplot(dates, vals, colors=palette, alpha=0.3, lw=0)
    tops = vals.cumsum(axis=0)
    for i in range(len(layers)):
        ax.plot(dates, tops[i], color=palette[i], lw=1.3, alpha=0.6)
    ax.set_ylabel('Percentage', fontsize=11)
    ax.set_yticks([0, 20, 40, 60, 80])
    ax.xaxis.set_minor_locator(mdates.WeekdayLocator(byweekday=mdates.MO))
    return dates


def before(ax, start, layers, title, ytop):
    dates = stacked(ax, start, layers)
    ax.set_xlim(dates[0], dates[-1])
    ax.set_ylim(0, ytop)
    ax.xaxis.set_major_locator(mdates.MonthLocator())
    ax.xaxis.set_major_formatter(mdates.DateFormatter('%b'))
    ax.set_title(title, fontsize=11.5)


def after(ax, start, layers, title, ytop, sah, sah_text):
    dates = stacked(ax, start, layers)
    end = pd.Timestamp('2020-07-01')
    ax.set_xlim(dates[0], end)
    ax.set_ylim(0, ytop)
    ticks = [dates[0], pd.Timestamp('2020-04-01'), pd.Timestamp('2020-05-01'),
             pd.Timestamp('2020-06-01'), end]
    ax.set_xticks(mdates.date2num(ticks))
    ax.set_xticklabels(['Mar', 'Apr', 'May', 'Jun', 'Jul'])
    sah = pd.Timestamp(sah)
    ax.axvline(sah, color='black', ls='--', lw=1.5, alpha=0.85)
    ax.text(sah + pd.Timedelta(days=1.8), 17, sah_text, rotation=90,
            fontsize=8, ha='left', va='bottom')
    ax.set_title(title, fontsize=11.5)


def cei(ax, series, title, ytop, yticks, notes):
    x = np.arange(len(periods))
    for name, vals, c in zip(industries, series, palette):
        if name in highlight:
            continue
        ax.plot(x, vals, color=c, lw=0.8, alpha=0.35)
        ax.plot(x, vals, ls='none', marker='^', ms=6.5, color=c, alpha=0.75)
    for name, vals, c in zip(industries, series, palette):
        if name in highlight:
            ax.plot(x, vals, color=c, lw=2, marker='^', ms=6.5)
    ax.set_xlim(-0.3, 6.3)
    ax.set_ylim(0.02, ytop)
    ax.set_yticks(yticks)
    ax.set_xticks(x)
    ax.set_xticklabels(periods, linespacing=0.95)
    ax.tick_params(axis='x', pad=2.5)
    ax.set_ylabel('Avg CEI (min/ft)', fontsize=11)
    ax.set_title(title, fontsize=11.5)
    for text, (tx, ty) in notes.items():
        ax.text(tx, ty, text, fontsize=10.5, ha='left', va='center')


nyc_before = [a1_bars, a1_coffee, a1_daycare, a1_fastfood, a1_fitness, a1_fullrest,
              a1_gas, a1_hospitals, a1_hotels, a1_malls, a1_schools, a1_supermarkets]
chi_before = [a2_bars, a2_coffee, a2_daycare, a2_fastfood, a2_fitness, a2_fullrest,
              a2_gas, a2_hospitals, a2_hotels, a2_malls, a2_schools, a2_supermarkets]
nyc_after = [b1_bars, b1_coffee, b1_daycare, b1_fastfood, b1_fitness, b1_fullrest,
             b1_gas, b1_hospitals, b1_hotels, b1_malls, b1_schools, b1_supermarkets]
chi_after = [b2_bars, b2_coffee, b2_daycare, b2_fastfood, b2_fitness, b2_fullrest,
             b2_gas, b2_hospitals, b2_hotels, b2_malls, b2_schools, b2_supermarkets]

ax = box(54, 350, 57, 262)
before(ax, '2020-01-01', nyc_before, 'NYC: Before\nemergency (12 Mar)', 80)
ax = box(54, 350, 344, 551)
before(ax, '2020-01-01', chi_before, 'Chicago: Before\nemergency (09 Mar)', 84)
ax = box(418, 708, 57, 262)
after(ax, '2020-03-12', nyc_after, 'NYC: After emergency', 80, '2020-03-20', 'SAH ordered (03/20)')
ax = box(418, 708, 344, 551)
after(ax, '2020-03-09', chi_after, 'Chicago: After emergency', 82.3, '2020-03-21', 'SAH ordered (03/21)')

notes1 = {'Schools': (2.42, 3.18), 'Hospitals': (4.45, 1.77), 'Bars/Pubs': (4.45, 0.86)}
notes2 = {'Schools': (2.42, 3.19), 'Hospitals': (4.45, 1.79), 'Bars/Pubs': (4.45, 0.89)}
ax = box(782, 1004, 57, 262)
cei(ax, c1_cei, 'NYC: CEI per visit', 3.43, [0.5, 1.0, 1.5, 2.0, 2.5, 3.0], notes1)
ax.annotate('Restaurants', xy=(0.22, 1.5), xytext=(1.0, 2.42), fontsize=10.5, ha='left', va='center',
            arrowprops=dict(arrowstyle='-', color='black', lw=0.8, relpos=(0, 0)))
ax = box(782, 1004, 344, 551)
cei(ax, c2_cei, 'Chicago: CEI per visit', 3.55, [0.5, 1.0, 1.5, 2.0, 2.5, 3.0, 3.5], notes2)
ax.annotate('Restaurants', xy=(0.2, 1.52), xytext=(1.0, 2.46), fontsize=10.5, ha='left', va='center',
            arrowprops=dict(arrowstyle='-', color='black', lw=0.8, relpos=(0, 0)))

for label, x, y in [('A.1', 22, 47), ('B.1', 388, 47), ('C.1', 753, 47),
                    ('A.2', 22, 332), ('B.2', 388, 332), ('C.2', 753, 332)]:
    fig.text(x / W, 1 - y / H, label, fontsize=13, fontweight='bold', va='baseline')

handles = [Patch(facecolor=to_rgba(c, 0.3), edgecolor=c, lw=1.5) for c in palette]
fig.legend(handles, industries, title='Industry', loc='upper left',
           bbox_to_anchor=(1038 / W, 1 - 146 / H), borderaxespad=0, fontsize=10,
           title_fontsize=12, handlelength=2.2, handleheight=0.9, labelspacing=0.55,
           borderpad=0.4)

fig.savefig('out.png', dpi=100)
